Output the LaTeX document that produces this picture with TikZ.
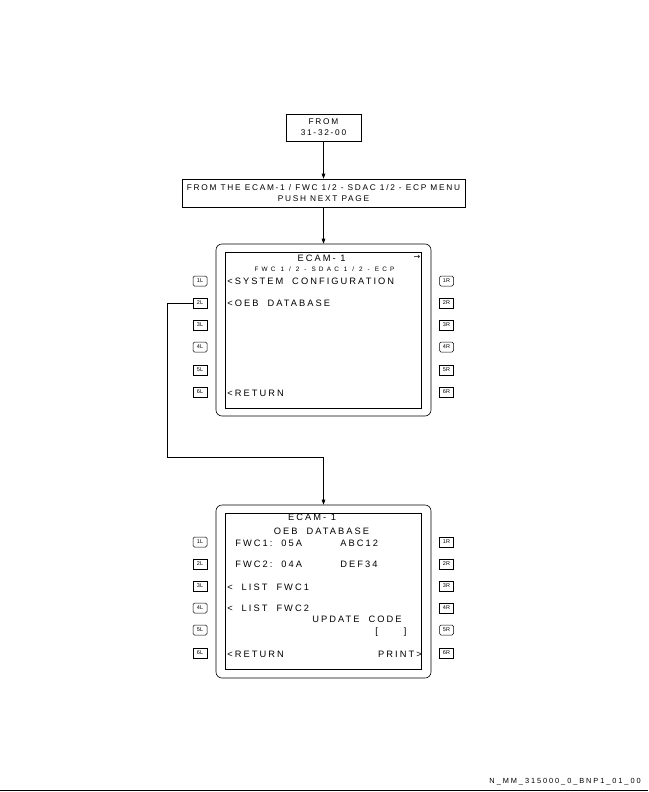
\documentclass[tikz,border=0pt]{standalone}
\usepackage{fontspec}
\setmainfont{Liberation Sans}
\usetikzlibrary{arrows.meta}
% Letter-spaced faces for the panel captions and the screen text
\newfontfamily\capfont[LetterSpace=21]{Liberation Sans}
\newfontfamily\scrfont[LetterSpace=22]{Liberation Sans}
\newfontfamily\subfont[LetterSpace=50]{Liberation Sans}
\newfontfamily\keyfont{Liberation Sans}
\newfontfamily\arrowfont{DejaVu Sans}
\newfontfamily\reffont[LetterSpace=26]{Liberation Sans}
% wide gap between words on the display
\newcommand\wgap{\hspace{9pt}}
\begin{document}
\begin{tikzpicture}[x=1pt,y=-1pt,
  line width=0.6pt,
  capbox/.style={draw,align=center,inner sep=2pt,font=\capfont\fontsize{8.3}{11}\selectfont},
  arr/.style={-{Triangle[length=5pt,width=3.6pt]}},
  bezel/.style={draw,rounded corners=6pt,minimum width=215pt,minimum height=172pt,inner sep=0},
  glass/.style={draw,minimum width=196pt,minimum height=156pt,inner sep=0},
  key/.style={draw,line width=0.5pt,minimum width=14pt,minimum height=10pt,inner sep=0,
    font=\keyfont\fontsize{5.5}{6}\selectfont},
  rkey/.style={key,rounded corners=1.5pt},
  line/.style={anchor=west,inner sep=0,font=\scrfont\fontsize{9.3}{10}\selectfont},
  title/.style={inner sep=0,font=\scrfont\fontsize{9.3}{10}\selectfont},
  sub/.style={inner sep=0,font=\subfont\fontsize{6.4}{7}\selectfont}
]
\useasboundingbox (0,0) rectangle (648,792);

% caption boxes
\node[capbox,minimum width=75pt,minimum height=27pt] (from) at (323.5,127.5) {FROM\\31-32-00};
\node[capbox,minimum width=283pt,minimum height=28pt] (push) at (323.5,193) {FROM THE ECAM-1 / FWC 1/2 - SDAC 1/2 - ECP MENU\\PUSH NEXT PAGE};

% first MCDU page
\node[bezel] (s1) at (323.5,330) {};
\node[glass] (g1) at (323,330) {};
\node[title] (t1) at (321.5,258) {ECAM- 1};
\node[inner sep=0,font=\arrowfont\fontsize{8}{8}\selectfont] (n1) at (417,257) {→};
\node[sub] (u1) at (324.5,269.5) {FWC 1 / 2 - SDAC 1 / 2 - ECP};
\node[line] (a1) at (227,281.5) {<SYSTEM\wgap CONFIGURATION};
\node[line] (a2) at (227,303) {<OEB\wgap DATABASE};
\node[line] (a6) at (227,393) {<RETURN};

\node[rkey] (L1a) at (200,281) {1L};
\node[key]  (L2a) at (200,303) {2L};
\node[key]  (L3a) at (200,325) {3L};
\node[rkey] (L4a) at (200,347) {4L};
\node[key]  (L5a) at (200,370) {5L};
\node[key]  (L6a) at (200,392) {6L};
\node[rkey] (R1a) at (446.5,281) {1R};
\node[key]  (R2a) at (446.5,303) {2R};
\node[key]  (R3a) at (446.5,325) {3R};
\node[rkey] (R4a) at (446.5,347) {4R};
\node[key]  (R5a) at (446.5,370) {5R};
\node[key]  (R6a) at (446.5,392) {6R};

% second MCDU page
\node[bezel,minimum height=173pt] (s2) at (323.5,591.5) {};
\node[glass] (g2) at (323,591.5) {};
\node[title] (t2) at (312,517.5) {ECAM- 1};
\node[title] (t3) at (321.5,531) {OEB\wgap DATABASE};
\node[line] (b1) at (235,543) {FWC1:\wgap 05A};
\node[line] (b1r) at (340,543) {ABC12};
\node[line] (b2) at (235,564.5) {FWC2:\wgap 04A};
\node[line] (b2r) at (340,564.5) {DEF34};
\node[line] (b3) at (227,587) {<\wgap LIST\wgap FWC1};
\node[line] (b4) at (227,608.5) {<\wgap LIST\wgap FWC2};
\node[line] (b5) at (312,619) {UPDATE\wgap CODE};
\node[line] (b5b) at (375,632) {[\hspace{26pt}]};
\node[line] (b6) at (227,654) {<RETURN};
\node[line,anchor=east] (b6r) at (422,654) {PRINT>};

\node[rkey] (L1b) at (200,542) {1L};
\node[key]  (L2b) at (200,564) {2L};
\node[key]  (L3b) at (200,586) {3L};
\node[rkey] (L4b) at (200,608) {4L};
\node[rkey] (L5b) at (200,630) {5L};
\node[key]  (L6b) at (200,653) {6L};
\node[key]  (R1b) at (446.5,542) {1R};
\node[key]  (R2b) at (446.5,564) {2R};
\node[key]  (R3b) at (446.5,586) {3R};
\node[key]  (R4b) at (446.5,608) {4R};
\node[rkey] (R5b) at (446.5,630) {5R};
\node[key]  (R6b) at (446.5,653) {6R};

% flow connectors
\coordinate (c1) at (167,457);
\coordinate (c2) at (323.5,457);
\draw[arr] (from) -- (push);
\draw[arr] (push) -- (s1.north);
\draw[arr] (L2a.west) -| (c1) -- (c2) -- (s2.north);

% sheet reference and rule
\node[anchor=east,inner sep=0,font=\reffont\fontsize{7.4}{8}\selectfont] (ref) at (641,782) {N\_MM\_315000\_0\_BNP1\_01\_00};
\coordinate (r1) at (0,790);
\coordinate (r2) at (648,790);
\draw[line width=0.8pt] (r1) -- (r2);
\end{tikzpicture}
\end{document}
